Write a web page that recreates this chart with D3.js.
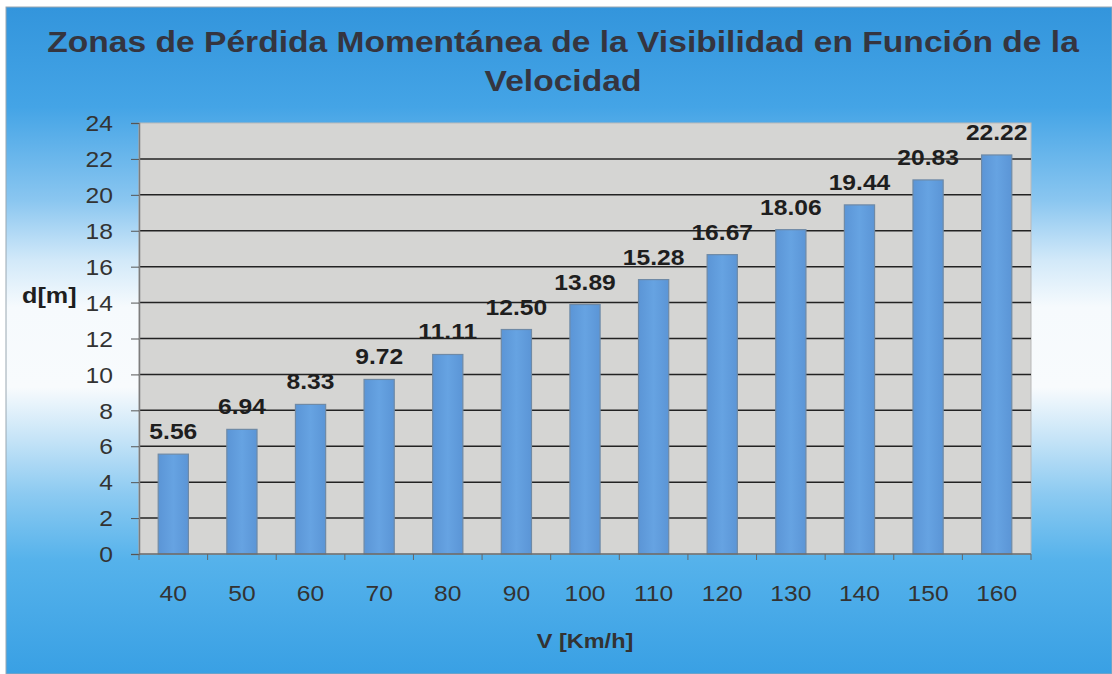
<!DOCTYPE html>
<html>
<head>
<meta charset="utf-8">
<script src="https://cdn.jsdelivr.net/npm/d3@7/dist/d3.min.js"></script>
<style>
  html, body { margin: 0; padding: 0; background: #ffffff; }
  svg { display: block; }
  text { font-family: "Liberation Sans", Arial, sans-serif; }
</style>
</head>
<body>
<svg id="chart" width="1112" height="674"></svg>
<script>
// Speeds (km/h) and the distance travelled during momentary loss of visibility (m)
const speeds = ["40", "50", "60", "70", "80", "90", "100", "110", "120", "130", "140", "150", "160"];
const distances = [5.56, 6.94, 8.33, 9.72, 11.11, 12.50, 13.89, 15.28, 16.67, 18.06, 19.44, 20.83, 22.22];
const yTicks = [0, 2, 4, 6, 8, 10, 12, 14, 16, 18, 20, 22, 24];
const titleLines = ["Zonas de Pérdida Momentánea de la Visibilidad en Función de la", "Velocidad"];
const xTitle = "V [Km/h]";
const yTitle = "d[m]";

const svg = d3.select("#chart");
const W = 1112, H = 674;
const frame = { x: 6, y: 7, w: W - 6, h: H - 7 };
const plot = { left: 139, right: 1031, top: 123, bottom: 554 };
const stretch = 1.12; // text is slightly wide

const defs = svg.append("defs");
const bg = defs.append("linearGradient").attr("id", "bg")
  .attr("x1", 0).attr("y1", 0).attr("x2", 0).attr("y2", 1);
[[0, "#3395dc"], [0.15, "#44a4e6"], [0.29, "#8ac6f0"], [0.38, "#d2e9f9"], [0.45, "#f6fafd"],
 [0.57, "#f8fbfd"], [0.65, "#c4e3f7"], [0.73, "#8ccaf1"], [0.83, "#55b2eb"], [1, "#39a0e4"]]
  .forEach(([o, c]) => bg.append("stop").attr("offset", o).attr("stop-color", c));

const barGrad = defs.append("linearGradient").attr("id", "bar")
  .attr("x1", 0).attr("y1", 0).attr("x2", 1).attr("y2", 0);
[[0, "#5b95d6"], [0.5, "#66a3e2"], [1, "#5b95d6"]]
  .forEach(([o, c]) => barGrad.append("stop").attr("offset", o).attr("stop-color", c));

// chart background
svg.append("rect").attr("x", frame.x).attr("y", frame.y)
  .attr("width", frame.w).attr("height", frame.h)
  .attr("fill", "url(#bg)").attr("stroke", "#9aa7b2").attr("stroke-width", 1);

const x = d3.scaleBand().domain(speeds).range([plot.left, plot.right])
  .paddingInner(0.56).paddingOuter(0.28);
const y = d3.scaleLinear().domain([0, 24]).range([plot.bottom, plot.top]);

// plot area
svg.append("rect").attr("x", plot.left).attr("y", plot.top)
  .attr("width", plot.right - plot.left).attr("height", plot.bottom - plot.top)
  .attr("fill", "#d5d5d3").attr("stroke", "#b9b9b9").attr("stroke-width", 1);

// gridlines
svg.append("g").selectAll("line").data(yTicks.filter(t => t > 0 && t < 24)).join("line")
  .attr("x1", plot.left).attr("x2", plot.right)
  .attr("y1", d => y(d)).attr("y2", d => y(d))
  .attr("stroke", "#222").attr("stroke-width", 1.5);

// y axis
const yAxis = svg.append("g").attr("transform", `translate(${plot.left},0)`)
  .call(d3.axisLeft(y).tickValues(yTicks).tickSize(8).tickPadding(0).tickFormat(d3.format("d")));
yAxis.select(".domain").attr("stroke", "#7d7d7d").attr("stroke-width", 1.5);
yAxis.selectAll(".tick line").attr("stroke", "#555");
yAxis.selectAll(".tick text").text(null);
yAxis.selectAll(".tick").append("g")
  .attr("transform", `translate(-26,0) scale(${stretch},1)`)
  .append("text")
  .attr("text-anchor", "end").attr("dy", "0.35em")
  .attr("font-size", 22).attr("fill", "#333")
  .text(d => d3.format("d")(d));

// bars
svg.append("g").selectAll("rect").data(distances).join("rect")
  .attr("x", (d, i) => x(speeds[i]))
  .attr("y", d => y(d))
  .attr("width", x.bandwidth())
  .attr("height", d => y(0) - y(d))
  .attr("fill", "url(#bar)")
  .attr("stroke", "#6f8aa6").attr("stroke-width", 1.2);

// x axis with ticks on category boundaries
const xAxisG = svg.append("g").attr("transform", `translate(0,${plot.bottom})`);
xAxisG.append("line").attr("x1", plot.left).attr("x2", plot.right)
  .attr("stroke", "#6d6d6d").attr("stroke-width", 1.5);
const step = x.step();
const bounds = d3.range(speeds.length + 1).map(i => plot.left + i * step);
xAxisG.selectAll(".xt").data(bounds).join("line").attr("class", "xt")
  .attr("x1", d => d).attr("x2", d => d).attr("y1", 0).attr("y2", 6)
  .attr("stroke", "#666").attr("stroke-width", 1);
xAxisG.selectAll(".xl").data(speeds).join("g").attr("class", "xl")
  .attr("transform", d => `translate(${x(d) + x.bandwidth() / 2},47) scale(${stretch},1)`)
  .append("text").attr("text-anchor", "middle")
  .attr("font-size", 22).attr("fill", "#333").text(d => d);

// value labels
svg.append("g").selectAll("g").data(distances).join("g")
  .attr("transform", (d, i) => `translate(${x(speeds[i]) + x.bandwidth() / 2},${y(d) - 15}) scale(${stretch},1)`)
  .append("text").attr("text-anchor", "middle")
  .attr("font-size", 22).attr("font-weight", "bold").attr("fill", "#1e1e1e")
  .text(d => d.toFixed(2));

// titles
const title = svg.append("g").attr("fill", "#35353f").attr("font-weight", "bold");
title.append("g").attr("transform", `translate(563,52) scale(${stretch},1)`)
  .append("text").attr("text-anchor", "middle").attr("font-size", 30).text(titleLines[0]);
title.append("g").attr("transform", `translate(563,91) scale(${stretch},1)`)
  .append("text").attr("text-anchor", "middle").attr("font-size", 30).text(titleLines[1]);

svg.append("g").attr("transform", `translate(22,303) scale(${stretch},1)`)
  .append("text").attr("font-size", 22.5).attr("font-weight", "bold").attr("fill", "#1e1e1e").text(yTitle);

svg.append("g").attr("transform", `translate(585,648) scale(${stretch},1)`)
  .append("text").attr("text-anchor", "middle").attr("font-size", 21).attr("font-weight", "bold")
  .attr("fill", "#333").text(xTitle);
</script>
</body>
</html>
